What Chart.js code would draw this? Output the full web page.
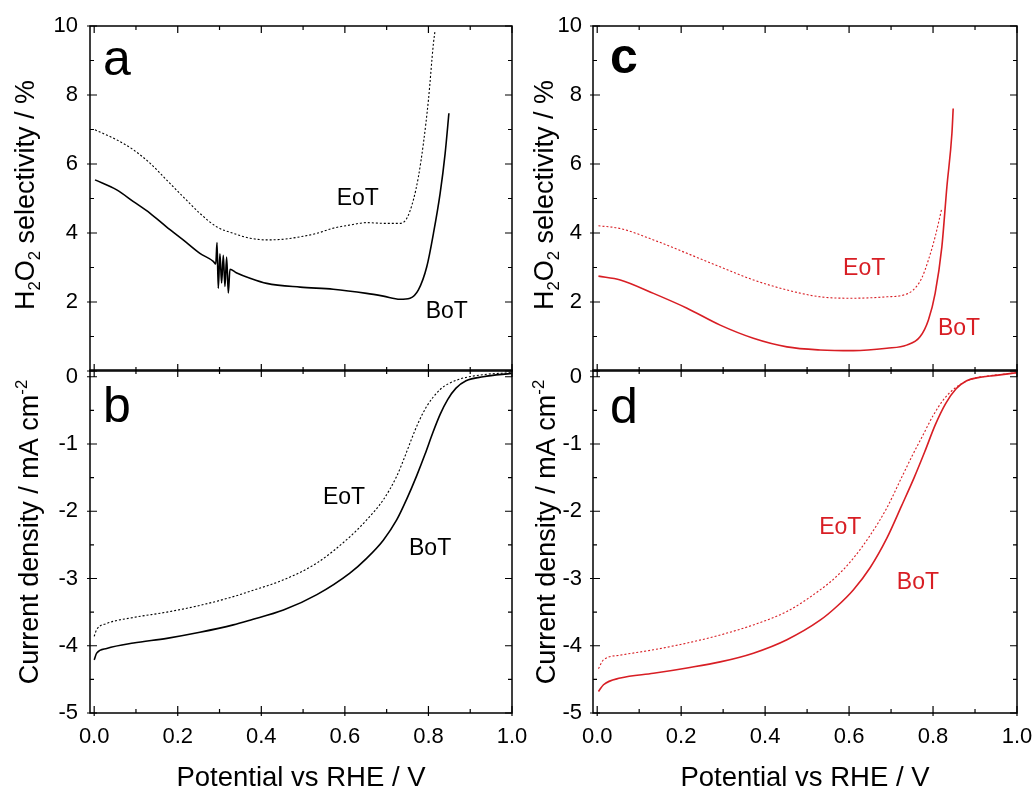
<!DOCTYPE html>
<html>
<head>
  <meta charset="utf-8">
  <title>H2O2 selectivity and current density</title>
  <script src="https://cdn.jsdelivr.net/npm/chart.js"></script>
  <style>
    body { margin: 0; background: #fff; }
    #wrap { position: relative; width: 1036px; height: 789px; overflow: hidden; }
    canvas { position: absolute; }
  </style>
</head>
<body>
<div id="wrap">
  <canvas id="chartA" width="540" height="380" style="left:0;top:0"></canvas>
  <canvas id="chartB" width="540" height="429" style="left:0;top:360px"></canvas>
  <canvas id="chartC" width="536" height="380" style="left:500px;top:0"></canvas>
  <canvas id="chartD" width="536" height="429" style="left:500px;top:360px"></canvas>
</div>

<script>
  // ---- data: potential (V vs RHE) and measured values ----
  // panel a: H2O2 selectivity, first catalyst
  var potAEoT = [0.002, 0.054, 0.094, 0.134, 0.173, 0.213, 0.253, 0.293, 0.333, 0.373, 0.413, 0.453, 0.493, 0.533, 0.572, 0.612, 0.652, 0.692, 0.732, 0.748, 0.764, 0.776, 0.788, 0.800, 0.812, 0.816];
  var selAEoT = [6.99, 6.70, 6.41, 6.02, 5.54, 5.05, 4.57, 4.18, 3.99, 3.85, 3.80, 3.82, 3.89, 3.99, 4.14, 4.23, 4.30, 4.28, 4.28, 4.42, 4.96, 5.63, 6.60, 7.86, 9.50, 9.88];
  var potABoT = [0.002, 0.054, 0.094, 0.134, 0.173, 0.213, 0.253, 0.285, 0.291, 0.294, 0.297, 0.301, 0.305, 0.309, 0.313, 0.317, 0.321, 0.325, 0.340, 0.373, 0.413, 0.493, 0.572, 0.652, 0.692, 0.732, 0.756, 0.776, 0.796, 0.812, 0.828, 0.840, 0.849];
  var selABoT = [5.54, 5.25, 4.91, 4.57, 4.18, 3.80, 3.41, 3.18, 3.10, 3.72, 2.40, 3.40, 2.55, 3.35, 2.45, 3.30, 2.26, 2.95, 2.85, 2.69, 2.54, 2.43, 2.37, 2.25, 2.17, 2.08, 2.11, 2.35, 3.02, 3.99, 5.15, 6.31, 7.47];

  // panel b: current density, first catalyst
  var potBEoT = [0, 0.006, 0.030, 0.094, 0.174, 0.253, 0.333, 0.373, 0.453, 0.533, 0.612, 0.652, 0.692, 0.724, 0.744, 0.760, 0.776, 0.796, 0.828, 0.868, 0.931, 0.999];
  var curBEoT = [-3.86, -3.76, -3.67, -3.58, -3.50, -3.40, -3.27, -3.19, -3.02, -2.77, -2.38, -2.13, -1.83, -1.48, -1.18, -0.92, -0.68, -0.44, -0.19, -0.05, 0.03, 0.06];
  var potBBoT = [0, 0.006, 0.030, 0.094, 0.174, 0.253, 0.333, 0.373, 0.453, 0.533, 0.612, 0.652, 0.692, 0.724, 0.748, 0.772, 0.792, 0.810, 0.828, 0.846, 0.866, 0.890, 0.931, 0.999];
  var curBBoT = [-4.21, -4.11, -4.04, -3.96, -3.89, -3.80, -3.69, -3.62, -3.47, -3.24, -2.92, -2.70, -2.43, -2.13, -1.82, -1.47, -1.15, -0.84, -0.56, -0.34, -0.17, -0.06, 0.00, 0.05];

  // panel c: H2O2 selectivity, second catalyst
  var potCEoT = [0.003, 0.055, 0.134, 0.214, 0.293, 0.372, 0.452, 0.531, 0.610, 0.690, 0.729, 0.753, 0.773, 0.789, 0.805, 0.821];
  var selCEoT = [4.21, 4.13, 3.80, 3.41, 3.02, 2.64, 2.35, 2.15, 2.11, 2.15, 2.20, 2.35, 2.69, 3.22, 3.89, 4.72];
  var potCBoT = [0.003, 0.055, 0.134, 0.214, 0.293, 0.372, 0.452, 0.531, 0.610, 0.690, 0.737, 0.769, 0.789, 0.805, 0.821, 0.833, 0.845, 0.848];
  var selCBoT = [2.75, 2.64, 2.25, 1.82, 1.33, 0.95, 0.70, 0.61, 0.59, 0.66, 0.75, 0.99, 1.48, 2.25, 3.60, 5.34, 6.89, 7.61];

  // panel d: current density, second catalyst
  var potDEoT = [0.003, 0.015, 0.055, 0.134, 0.214, 0.293, 0.372, 0.452, 0.531, 0.570, 0.610, 0.650, 0.690, 0.725, 0.750, 0.775, 0.800, 0.825, 0.850, 0.875, 0.900, 0.930, 0.999];
  var curDEoT = [-4.34, -4.21, -4.14, -4.06, -3.96, -3.84, -3.69, -3.49, -3.17, -2.97, -2.70, -2.36, -1.95, -1.50, -1.18, -0.88, -0.58, -0.34, -0.18, -0.08, -0.02, 0.01, 0.06];
  var potDBoT = [0.003, 0.015, 0.055, 0.134, 0.214, 0.293, 0.372, 0.452, 0.531, 0.570, 0.610, 0.650, 0.690, 0.725, 0.755, 0.780, 0.805, 0.830, 0.855, 0.880, 0.910, 0.950, 0.999];
  var curDBoT = [-4.68, -4.58, -4.48, -4.41, -4.33, -4.24, -4.11, -3.91, -3.62, -3.42, -3.17, -2.84, -2.40, -1.92, -1.50, -1.12, -0.72, -0.40, -0.18, -0.06, -0.01, 0.02, 0.06];

  // ---- ticks and titles ----
  var potMajor = [0, 0.2, 0.4, 0.6, 0.8, 1.0];
  var potMinor = [0.1, 0.3, 0.5, 0.7, 0.9];
  var selMajor = [0, 2, 4, 6, 8, 10];
  var selMinor = [1, 3, 5, 7, 9];
  var curMajor = [-5, -4, -3, -2, -1, 0];
  var curMinor = [-4.5, -3.5, -2.5, -1.5, -0.5];

  var selTitle = [['H', 0], ['2', 1], ['O', 0], ['2', 1], [' selectivity / %', 0]];
  var curTitle = [['Current density / mA cm', 0], ['-2', -1]];
  var potTitle = [['Potential vs RHE / V', 0]];

  var FONT = '"Liberation Sans", Arial, sans-serif';
  var RED = '#d81e24';
  Chart.defaults.font.family = FONT;
  Chart.defaults.color = '#000';

  function pts(xs, ys) {
    return xs.map(function (x, i) { return { x: x, y: ys[i] }; });
  }

  // write a string made of normal / sub (1) / super (-1) pieces, centred on 0
  function drawRich(ctx, parts, size) {
    var total = 0;
    parts.forEach(function (p) {
      ctx.font = (p[1] ? size * 0.62 : size) + 'px ' + FONT;
      total += ctx.measureText(p[0]).width;
    });
    var x = -total / 2;
    parts.forEach(function (p) {
      ctx.font = (p[1] ? size * 0.62 : size) + 'px ' + FONT;
      var dy = p[1] === 1 ? size * 0.24 : (p[1] === -1 ? -size * 0.42 : 0);
      ctx.fillText(p[0], x, dy);
      x += ctx.measureText(p[0]).width;
    });
  }

  // box round the plot area with inward ticks on all four sides
  var frameTicks = {
    id: 'frameTicks',
    afterDraw: function (chart, args, o) {
      var ctx = chart.ctx, a = chart.chartArea;
      var xs = chart.scales.x, ys = chart.scales.y;
      ctx.save();
      ctx.strokeStyle = '#000';
      ctx.lineWidth = 1.2;
      ctx.beginPath();
      function vTick(v, len, out) {
        var y = ys.getPixelForValue(v);
        ctx.moveTo(a.left - out, y); ctx.lineTo(a.left + len, y);
        ctx.moveTo(a.right - len, y); ctx.lineTo(a.right, y);
      }
      function hTick(v, len, out) {
        var x = xs.getPixelForValue(v);
        ctx.moveTo(x, a.bottom + out); ctx.lineTo(x, a.bottom - len);
        ctx.moveTo(x, a.top + len); ctx.lineTo(x, a.top);
      }
      o.yMajor.forEach(function (v) { vTick(v, 7, 3); });
      o.yMinor.forEach(function (v) { vTick(v, 4, 0); });
      potMajor.forEach(function (v) { hTick(v, 7, o.bottomOut); });
      potMinor.forEach(function (v) { hTick(v, 4, 0); });
      ctx.stroke();
      ctx.lineWidth = 1.5;
      ctx.strokeRect(a.left, a.top, a.right - a.left, a.bottom - a.top);
      ctx.restore();
    }
  };

  // panel letter, curve labels and axis titles
  var panelText = {
    id: 'panelText',
    afterDraw: function (chart, args, o) {
      var ctx = chart.ctx;
      var xs = chart.scales.x, ys = chart.scales.y;
      ctx.save();
      ctx.fillStyle = '#000';
      ctx.textBaseline = 'alphabetic';
      ctx.textAlign = 'left';
      ctx.font = o.letterWeight + ' 50px ' + FONT;
      ctx.fillText(o.letter, o.letterX, o.letterY);

      ctx.fillStyle = o.color;
      ctx.textAlign = 'center';
      ctx.font = '23px ' + FONT;
      o.labels.forEach(function (l) {
        ctx.fillText(l.text, xs.getPixelForValue(l.x), ys.getPixelForValue(l.y) + 8);
      });

      ctx.fillStyle = '#000';
      ctx.textAlign = 'left';
      ctx.save();
      ctx.translate(o.yTitle.x, o.yTitle.y);
      ctx.rotate(-Math.PI / 2);
      drawRich(ctx, o.yTitle.parts, 27);
      ctx.restore();
      if (o.xTitle) {
        ctx.save();
        ctx.translate(o.xTitle.x, o.xTitle.y);
        drawRich(ctx, o.xTitle.parts, 27.5);
        ctx.restore();
      }
      ctx.restore();
    }
  };

  function makeChart(id, p) {
    return new Chart(document.getElementById(id), {
      type: 'line',
      data: {
        datasets: [{
          label: 'EoT',
          data: p.eot,
          borderColor: p.color,
          borderWidth: 1.1,
          borderDash: [2, 2],
          pointRadius: 0,
          cubicInterpolationMode: 'monotone'
        }, {
          label: 'BoT',
          data: p.bot,
          borderColor: p.color,
          borderWidth: 1.6,
          pointRadius: 0,
          cubicInterpolationMode: 'monotone'
        }]
      },
      options: {
        responsive: false,
        animation: false,
        layout: { padding: p.pad },
        scales: {
          x: {
            type: 'linear',
            display: p.showX,
            min: -0.01,
            max: 1.0,
            grid: { display: false, drawTicks: false },
            border: { display: false },
            ticks: {
              padding: 11,
              font: { size: 22 },
              callback: function (v) { return v.toFixed(1); }
            },
            afterBuildTicks: function (s) {
              s.ticks = potMajor.map(function (v) { return { value: v }; });
            },
            afterFit: function (s) {
              if (p.showX) s.height = 76;
              s.paddingLeft = 0;
              s.paddingRight = 0;
            }
          },
          y: {
            min: p.yMin,
            max: p.yMax,
            grid: { display: false, drawTicks: false },
            border: { display: false },
            ticks: {
              padding: p.yPad,
              font: { size: 22 },
              callback: function (v) { return (p.hideZero && v === 0) ? '' : String(v); }
            },
            afterBuildTicks: function (s) {
              s.ticks = p.yMajor.map(function (v) { return { value: v }; });
            },
            afterFit: function (s) {
              s.width = p.yWidth;
              s.paddingTop = 0;
              s.paddingBottom = 0;
            }
          }
        },
        plugins: {
          legend: { display: false },
          tooltip: { enabled: false },
          frameTicks: { yMajor: p.yMajor, yMinor: p.yMinor, bottomOut: p.showX ? 3 : 0 },
          panelText: p.text
        }
      },
      plugins: [frameTicks, panelText]
    });
  }

  var chartA = makeChart('chartA', {
    eot: pts(potAEoT, selAEoT), bot: pts(potABoT, selABoT), color: '#000',
    showX: false, yMin: 0, yMax: 10, yMajor: selMajor, yMinor: selMinor, hideZero: true,
    yWidth: 90, yPad: 12, pad: { top: 26, right: 28, bottom: 9, left: 0 },
    text: {
      letter: 'a', letterWeight: 'normal', letterX: 103, letterY: 75, color: '#000',
      labels: [{ text: 'EoT', x: 0.631, y: 5.04 }, { text: 'BoT', x: 0.844, y: 1.77 }],
      yTitle: { parts: selTitle, x: 34, y: 195 }
    }
  });

  var chartB = makeChart('chartB', {
    eot: pts(potBEoT, curBEoT), bot: pts(potBBoT, curBBoT), color: '#000',
    showX: true, yMin: -5, yMax: 0.1, yMajor: curMajor, yMinor: curMinor, hideZero: false,
    yWidth: 90, yPad: 12, pad: { top: 10, right: 28, bottom: 0, left: 0 },
    text: {
      letter: 'b', letterWeight: 'normal', letterX: 103, letterY: 62, color: '#000',
      labels: [{ text: 'EoT', x: 0.598, y: -1.77 }, { text: 'BoT', x: 0.804, y: -2.53 }],
      yTitle: { parts: curTitle, x: 38, y: 172 },
      xTitle: { parts: potTitle, x: 301, y: 426 }
    }
  });

  var chartC = makeChart('chartC', {
    eot: pts(potCEoT, selCEoT), bot: pts(potCBoT, selCBoT), color: RED,
    showX: false, yMin: 0, yMax: 10, yMajor: selMajor, yMinor: selMinor, hideZero: true,
    yWidth: 93, yPad: 11, pad: { top: 26, right: 19, bottom: 9, left: 0 },
    text: {
      letter: 'c', letterWeight: 'bold', letterX: 110, letterY: 73, color: RED,
      labels: [{ text: 'EoT', x: 0.636, y: 3.01 }, { text: 'BoT', x: 0.862, y: 1.28 }],
      yTitle: { parts: selTitle, x: 53, y: 195 }
    }
  });

  var chartD = makeChart('chartD', {
    eot: pts(potDEoT, curDEoT), bot: pts(potDBoT, curDBoT), color: RED,
    showX: true, yMin: -5, yMax: 0.1, yMajor: curMajor, yMinor: curMinor, hideZero: false,
    yWidth: 93, yPad: 11, pad: { top: 10, right: 19, bottom: 0, left: 0 },
    text: {
      letter: 'd', letterWeight: 'normal', letterX: 110, letterY: 63, color: RED,
      labels: [{ text: 'EoT', x: 0.579, y: -2.22 }, { text: 'BoT', x: 0.764, y: -3.04 }],
      yTitle: { parts: curTitle, x: 55, y: 172 },
      xTitle: { parts: potTitle, x: 305, y: 426 }
    }
  });
</script>
</body>
</html>
